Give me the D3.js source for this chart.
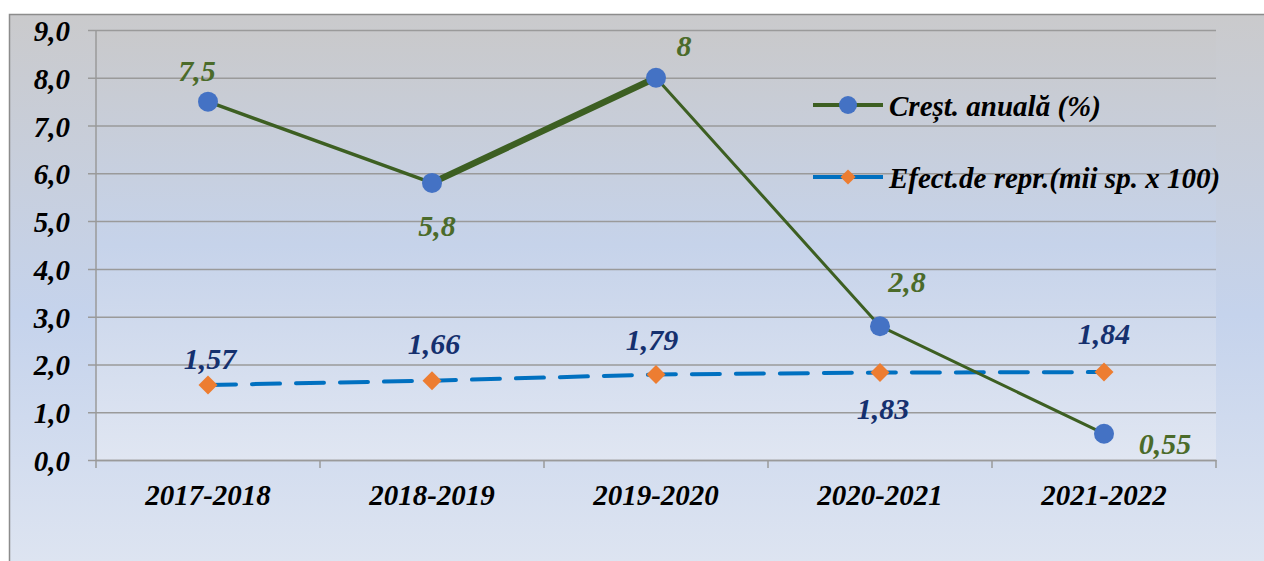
<!DOCTYPE html>
<html>
<head>
<meta charset="utf-8">
<script src="https://cdn.jsdelivr.net/npm/d3@7"></script>
<style>
  body { margin: 0; background: #fff; }
  svg { display: block; }
  svg text { font-family: "Liberation Serif", "Times New Roman", Times, "DejaVu Serif", serif !important; font-weight: bold; font-style: italic; }
</style>
</head>
<body>
<svg id="chart"></svg>
<script>
const years = ["2017-2018", "2018-2019", "2019-2020", "2020-2021", "2021-2022"];
const growth = [7.5, 5.8, 8, 2.8, 0.55];
const growthLabels = ["7,5", "5,8", "8", "2,8", "0,55"];
const effect = [1.57, 1.66, 1.79, 1.83, 1.84];
const effectLabels = ["1,57", "1,66", "1,79", "1,83", "1,84"];
const yTicks = [0, 1, 2, 3, 4, 5, 6, 7, 8, 9];
const legendNames = ["Creșt. anuală (%)", "Efect.de repr.(mii sp. x 100)"];

const width = 1264;
const height = 561;
const plot = { left: 96, right: 1216, top: 30, bottom: 460 };

// label placement, offsets from the marker (dx, baseline dy)
const growthOffsets = [[-11, -21], [5, 53], [28, -22], [27, -34], [61, 20]];
const effectOffsets = [[2, -16], [2, -27], [-4, -24], [3, 46], [0, -28]];
const growthWidths = [3.5, 6.5, 3, 3];

const svg = d3.select('#chart')
  .attr('width', width)
  .attr('height', height);

const defs = svg.append('defs');

const bgGrad = defs.append('linearGradient')
  .attr('id', 'bg')
  .attr('gradientUnits', 'userSpaceOnUse')
  .attr('x1', 0).attr('y1', 14).attr('x2', 0).attr('y2', 561);
bgGrad.append('stop').attr('offset', '0%').attr('stop-color', '#cacacc');
bgGrad.append('stop').attr('offset', '55%').attr('stop-color', '#c5d3ec');
bgGrad.append('stop').attr('offset', '100%').attr('stop-color', '#dde4f1');

const plotGrad = defs.append('linearGradient')
  .attr('id', 'plotbg')
  .attr('gradientUnits', 'userSpaceOnUse')
  .attr('x1', 0).attr('y1', plot.top).attr('x2', 0).attr('y2', plot.bottom);
plotGrad.append('stop').attr('offset', '0%').attr('stop-color', '#c9c9cb');
plotGrad.append('stop').attr('offset', '50%').attr('stop-color', '#c6d3ea');
plotGrad.append('stop').attr('offset', '100%').attr('stop-color', '#e0e6f2');

svg.append('rect')
  .attr('x', 9.5).attr('y', 14.5)
  .attr('width', width + 10).attr('height', height + 10)
  .attr('fill', 'url(#bg)')
  .attr('stroke', '#8c8c8c')
  .attr('stroke-width', 1.5);

svg.append('rect')
  .attr('x', plot.left).attr('y', plot.top)
  .attr('width', plot.right - plot.left).attr('height', plot.bottom - plot.top)
  .attr('fill', 'url(#plotbg)');

const x = d3.scaleBand()
  .domain(years)
  .range([plot.left, plot.right]);

const y = d3.scaleLinear()
  .domain([0, 9])
  .range([plot.bottom, plot.top]);

const cx = d => x(d) + x.bandwidth() / 2;

// gridlines + y axis
const yAxis = d3.axisLeft(y)
  .tickValues(yTicks)
  .tickSize(-(plot.right - plot.left))
  .tickPadding(26)
  .tickFormat(d => d3.format('.1f')(d).replace('.', ','));

svg.append('g')
  .attr('transform', `translate(${plot.left},0)`)
  .call(yAxis)
  .call(g => g.select('.domain').remove())
  .call(g => g.selectAll('.tick line').attr('stroke', '#9a9a9a').attr('stroke-width', 1.5).attr('x1', -8))
  .call(g => g.selectAll('.tick text')
    .attr('fill', '#000')
    .attr('font-size', 29)
    .attr('dy', '0.36em'));

svg.append('line')
  .attr('x1', plot.left).attr('x2', plot.left)
  .attr('y1', plot.top).attr('y2', plot.bottom + 8)
  .attr('stroke', '#9a9a9a').attr('stroke-width', 1.5);

// x axis with boundary ticks
const xAxis = d3.axisBottom(x).tickSize(0).tickPadding(24);
svg.append('g')
  .attr('transform', `translate(0,${plot.bottom})`)
  .call(xAxis)
  .call(g => g.select('.domain').attr('stroke', '#9a9a9a').attr('stroke-width', 1.5))
  .call(g => g.selectAll('.tick text')
    .attr('fill', '#000')
    .attr('font-size', 29));

svg.append('g')
  .selectAll('line')
  .data(years.slice(1).concat(['end']))
  .join('line')
  .attr('x1', d => d === 'end' ? plot.right : x(d))
  .attr('x2', d => d === 'end' ? plot.right : x(d))
  .attr('y1', plot.bottom).attr('y2', plot.bottom + 8)
  .attr('stroke', '#9a9a9a').attr('stroke-width', 1.5);

// effect series (dashed)
const effectLine = d3.line()
  .x((d, i) => cx(years[i]))
  .y(d => y(d));

svg.append('path')
  .datum(effect)
  .attr('d', effectLine)
  .attr('fill', 'none')
  .attr('stroke', '#0070c0')
  .attr('stroke-width', 4)
  .attr('stroke-linecap', 'round')
  .attr('stroke-dasharray', '28 16');

// growth series, segments with own widths
const growthSegs = d3.pairs(growth.map((v, i) => [cx(years[i]), y(v)]));
svg.append('g')
  .selectAll('line')
  .data(growthSegs)
  .join('line')
  .attr('x1', d => d[0][0]).attr('y1', d => d[0][1])
  .attr('x2', d => d[1][0]).attr('y2', d => d[1][1])
  .attr('stroke', '#3d5f22')
  .attr('stroke-width', (d, i) => growthWidths[i])
  .attr('stroke-linecap', 'round');

svg.append('g')
  .selectAll('circle')
  .data(growth)
  .join('circle')
  .attr('cx', (d, i) => cx(years[i]))
  .attr('cy', d => y(d))
  .attr('r', 10)
  .attr('fill', '#4472c4');

const diamond = d3.symbol().type(d3.symbolSquare).size(180);
svg.append('g')
  .selectAll('path')
  .data(effect)
  .join('path')
  .attr('d', diamond)
  .attr('transform', (d, i) => `translate(${cx(years[i])},${y(d)}) rotate(45)`)
  .attr('fill', '#ed7d31');

// data labels
svg.append('g')
  .selectAll('text')
  .data(growth)
  .join('text')
  .attr('x', (d, i) => cx(years[i]) + growthOffsets[i][0])
  .attr('y', (d, i) => y(d) + growthOffsets[i][1])
  .attr('text-anchor', 'middle')
  .attr('font-size', 30)
  .attr('fill', '#4b6b2a')
  .text((d, i) => growthLabels[i]);

svg.append('g')
  .selectAll('text')
  .data(effect)
  .join('text')
  .attr('x', (d, i) => cx(years[i]) + effectOffsets[i][0])
  .attr('y', (d, i) => y(d) + effectOffsets[i][1])
  .attr('text-anchor', 'middle')
  .attr('font-size', 30)
  .attr('fill', '#15306e')
  .text((d, i) => effectLabels[i]);

// legend
const legend = svg.append('g').attr('transform', 'translate(813,105)');
const items = legend.selectAll('g')
  .data(legendNames)
  .join('g')
  .attr('transform', (d, i) => `translate(0,${i * 72})`);

items.append('line')
  .attr('x1', 0).attr('x2', 70)
  .attr('stroke', (d, i) => i === 0 ? '#3d5f22' : '#0070c0')
  .attr('stroke-width', 4);

items.filter((d, i) => i === 0).append('circle')
  .attr('cx', 35).attr('r', 9).attr('fill', '#4472c4');

items.filter((d, i) => i === 1).append('path')
  .attr('d', diamond)
  .attr('transform', 'translate(35,0) rotate(45) scale(0.8)')
  .attr('fill', '#ed7d31');

items.append('text')
  .attr('x', 76)
  .attr('y', 11)
  .attr('font-size', 29)
  .attr('fill', '#000')
  .text(d => d);
</script>
</body>
</html>
